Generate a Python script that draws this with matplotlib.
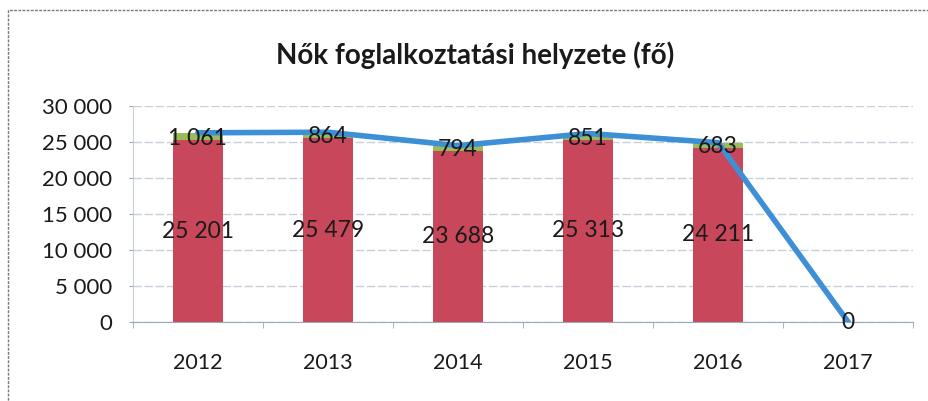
import matplotlib.pyplot as plt
from matplotlib.patches import Rectangle

years = ['2012', '2013', '2014', '2015', '2016', '2017']
employed = [25201, 25479, 23688, 25313, 24211, 0]
other = [1061, 864, 794, 851, 683, 0]
totals = [26262, 26343, 24482, 26164, 24894, 0]
y_ticks = [0, 5000, 10000, 15000, 20000, 25000, 30000]


def fmt(v):
    return '{:,}'.format(v).replace(',', ' ')


plt.rcParams['font.family'] = ['Lato', 'DejaVu Sans']

fig = plt.figure(figsize=(9.29, 4.01), dpi=100)
ax = fig.add_axes([0.143, 0.197, 0.84, 0.539])

x = list(range(len(years)))

# stacked bars
ax.bar(x[:5], employed[:5], width=0.39, color='#c8475a', zorder=2)
ax.bar(x[:5], other[:5], bottom=employed[:5], width=0.39, color='#9bbb59', zorder=2)

# total line
ax.plot(x, totals, color='#3d8fd6', linewidth=4, zorder=3, solid_capstyle='round')

# labels
for i in range(5):
    ax.text(i, employed[i] / 2, fmt(employed[i]), ha='center', va='center',
            fontsize=16.5, color='#1a1a1a', zorder=4)
    ax.text(i, employed[i] + other[i] / 2 - 200, fmt(other[i]), ha='center', va='center',
            fontsize=16.5, color='#1a1a1a', zorder=4)
ax.text(5, 0, fmt(totals[5]), ha='center', va='center', fontsize=16.5, color='#1a1a1a', zorder=4)

ax.set_xlim(-0.5, 5.5)
ax.set_ylim(0, 30000)
ax.set_yticks(y_ticks)
ax.set_yticklabels([fmt(v) for v in y_ticks], fontsize=16, color='#1a1a1a')
ax.set_xticks(x)
ax.set_xticklabels(years, fontsize=15.5, color='#1a1a1a')
ax.set_xticks([i + 0.5 for i in range(-1, 6)], minor=True)
ax.tick_params(axis='x', which='major', length=0, pad=22)
ax.tick_params(axis='x', which='minor', length=4, color='#9aa7b8', direction='out')
ax.tick_params(axis='y', length=3, color='#9aa7b8', pad=12)
ax.yaxis.grid(True, color='#c8d0da', linewidth=1, linestyle=(0, (6, 2)), zorder=0)
for s in ['top', 'right']:
    ax.spines[s].set_visible(False)
ax.spines['left'].set_color('#c8d0da')
ax.spines['bottom'].set_color('#9aa7b8')

fig.text(0.511, 0.863, 'Nők foglalkoztatási helyzete (fő)', ha='center', va='center',
         fontsize=20, fontweight='bold', color='#1a1a1a')

# outer chart frame
fig.patches.append(Rectangle((0.009, -0.01), 1.0, 0.985, transform=fig.transFigure,
                             fill=False, edgecolor='#777777', linewidth=1,
                             linestyle=(0, (2, 1))))

fig.savefig('out.png', dpi=100)
